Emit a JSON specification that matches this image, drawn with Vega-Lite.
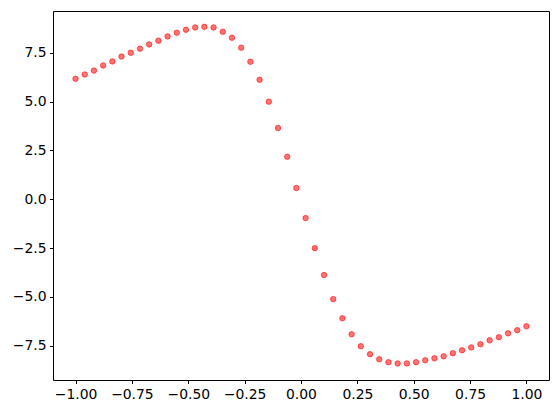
{
  "$schema": "https://vega.github.io/schema/vega-lite/v6.json",
  "width": 496,
  "height": 369,
  "autosize": {"type": "none"},
  "padding": {"left": 53, "top": 11, "right": 10, "bottom": 33},
  "background": "white",
  "config": {
    "view": {"stroke": "black", "strokeWidth": 1},
    "axis": {
      "domain": false,
      "grid": false,
      "ticks": true,
      "tickSize": 3.5,
      "tickColor": "black",
      "tickWidth": 1,
      "labelFont": "DejaVu Sans",
      "labelFontSize": 13.9,
      "labelColor": "black",
      "labelPadding": 3.5,
      "title": null
    }
  },
  "data": {
    "values": [
      {"x": -1.0, "y": 6.17},
      {"x": -0.95918, "y": 6.39},
      {"x": -0.91837, "y": 6.59},
      {"x": -0.87755, "y": 6.85},
      {"x": -0.83673, "y": 7.06},
      {"x": -0.79592, "y": 7.31},
      {"x": -0.7551, "y": 7.5},
      {"x": -0.71429, "y": 7.71},
      {"x": -0.67347, "y": 7.93},
      {"x": -0.63265, "y": 8.12},
      {"x": -0.59184, "y": 8.34},
      {"x": -0.55102, "y": 8.53},
      {"x": -0.5102, "y": 8.68},
      {"x": -0.46939, "y": 8.8},
      {"x": -0.42857, "y": 8.83},
      {"x": -0.38776, "y": 8.8},
      {"x": -0.34694, "y": 8.58},
      {"x": -0.30612, "y": 8.27},
      {"x": -0.26531, "y": 7.76},
      {"x": -0.22449, "y": 7.04},
      {"x": -0.18367, "y": 6.12},
      {"x": -0.14286, "y": 5.0},
      {"x": -0.10204, "y": 3.65},
      {"x": -0.06122, "y": 2.18},
      {"x": -0.02041, "y": 0.58},
      {"x": 0.02041, "y": -0.96},
      {"x": 0.06122, "y": -2.5},
      {"x": 0.10204, "y": -3.88},
      {"x": 0.14286, "y": -5.11},
      {"x": 0.18367, "y": -6.09},
      {"x": 0.22449, "y": -6.91},
      {"x": 0.26531, "y": -7.52},
      {"x": 0.30612, "y": -7.93},
      {"x": 0.34694, "y": -8.19},
      {"x": 0.38776, "y": -8.34},
      {"x": 0.42857, "y": -8.4},
      {"x": 0.46939, "y": -8.4},
      {"x": 0.5102, "y": -8.34},
      {"x": 0.55102, "y": -8.24},
      {"x": 0.59184, "y": -8.14},
      {"x": 0.63265, "y": -8.04},
      {"x": 0.67347, "y": -7.88},
      {"x": 0.71429, "y": -7.73},
      {"x": 0.7551, "y": -7.58},
      {"x": 0.79592, "y": -7.42},
      {"x": 0.83673, "y": -7.22},
      {"x": 0.87755, "y": -7.06},
      {"x": 0.91837, "y": -6.86},
      {"x": 0.95918, "y": -6.7},
      {"x": 1.0, "y": -6.5}
    ]
  },
  "mark": {
    "type": "point",
    "shape": "circle",
    "filled": true,
    "size": 30,
    "fill": "red",
    "fillOpacity": 0.55,
    "stroke": "red",
    "strokeOpacity": 0.55,
    "strokeWidth": 1
  },
  "encoding": {
    "x": {
      "field": "x",
      "type": "quantitative",
      "scale": {"domain": [-1.1, 1.1], "nice": false, "zero": false},
      "axis": {"values": [-1, -0.75, -0.5, -0.25, 0, 0.25, 0.5, 0.75, 1], "format": ".2f"}
    },
    "y": {
      "field": "y",
      "type": "quantitative",
      "scale": {"domain": [-9.25, 9.64], "nice": false, "zero": false},
      "axis": {"values": [-7.5, -5, -2.5, 0, 2.5, 5, 7.5], "format": ".1f"}
    }
  }
}
